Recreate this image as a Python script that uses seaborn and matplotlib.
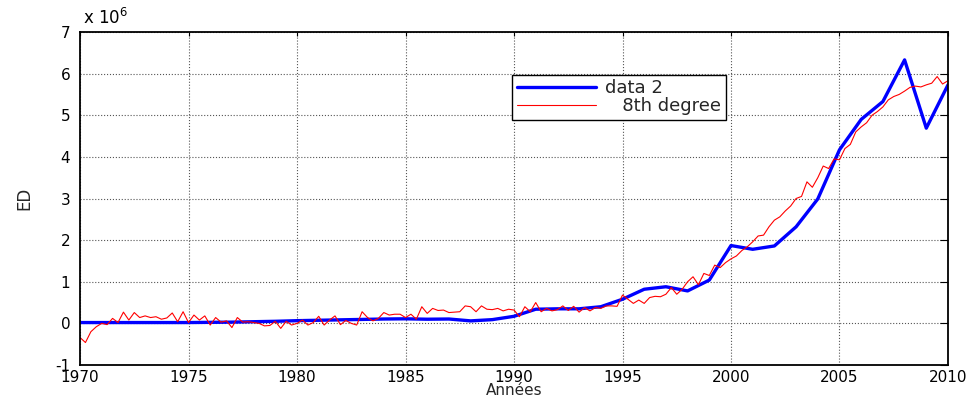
import numpy as np
import pandas as pd
import matplotlib
matplotlib.use("Agg")
import matplotlib.pyplot as plt
from matplotlib.ticker import FuncFormatter
import seaborn as sns

# Annual series ("data 2"), in millions
years = list(range(1970, 2011))
data2_m = [0.02, 0.02, 0.02, 0.02, 0.02, 0.02, 0.025, 0.03, 0.04, 0.05,
           0.065, 0.075, 0.085, 0.095, 0.105, 0.11, 0.10, 0.105, 0.06, 0.09,
           0.17, 0.34, 0.35, 0.35, 0.40, 0.58, 0.82, 0.88, 0.78, 1.04,
           1.87, 1.78, 1.86, 2.32, 2.99, 4.17, 4.90, 5.33, 6.33, 4.69,
           5.73]

# Quarterly series ("8th degree"), in millions, 1970Q1 .. 2010Q1
fit_m = [
    -0.34, -0.46, -0.20, -0.08,
    0.00, -0.03, 0.12, 0.02,
    0.27, 0.08, 0.26, 0.14,
    0.18, 0.14, 0.16, 0.10,
    0.13, 0.25, 0.04, 0.28,
    0.02, 0.20, 0.08, 0.18,
    -0.04, 0.14, 0.03, 0.06,
    -0.10, 0.14, 0.03, 0.04,
    0.02, 0.00, -0.06, -0.05,
    0.05, -0.12, 0.05, -0.04,
    0.00, 0.08, -0.04, 0.02,
    0.17, -0.04, 0.08, 0.18,
    -0.03, 0.07, 0.00, -0.04,
    0.28, 0.14, 0.06, 0.12,
    0.26, 0.20, 0.22, 0.22,
    0.14, 0.22, 0.10, 0.40,
    0.24, 0.36, 0.31, 0.32,
    0.26, 0.27, 0.28, 0.42,
    0.40, 0.28, 0.42, 0.34,
    0.33, 0.36, 0.30, 0.34,
    0.32, 0.16, 0.40, 0.28,
    0.50, 0.28, 0.36, 0.30,
    0.33, 0.42, 0.31, 0.41,
    0.27, 0.38, 0.30, 0.38,
    0.36, 0.42, 0.42, 0.41,
    0.68, 0.58, 0.48, 0.56,
    0.48, 0.62, 0.65, 0.64,
    0.70, 0.86, 0.70, 0.82,
    1.00, 1.12, 0.93, 1.20,
    1.15, 1.40, 1.34, 1.46,
    1.55, 1.62, 1.75, 1.84,
    1.96, 2.10, 2.12, 2.32,
    2.48, 2.56, 2.70, 2.82,
    3.00, 3.05, 3.40, 3.27,
    3.50, 3.78, 3.72, 3.95,
    3.93, 4.20, 4.30, 4.60,
    4.72, 4.82, 5.00, 5.09,
    5.20, 5.37, 5.45, 5.50,
    5.58, 5.67, 5.70, 5.68,
    5.73, 5.77, 5.93, 5.75,
    5.83,
]
fit_t = 1970 + np.arange(len(fit_m)) / 4.0

x_ticks = list(range(1970, 2011, 5))
y_ticks_m = list(range(-1, 8))
scale = 1e6

annual = pd.DataFrame({"year": years, "ED": np.array(data2_m) * scale})
quarterly = pd.DataFrame({"t": fit_t, "ED": np.array(fit_m) * scale})

sns.set_theme(style="white")
plt.rcParams["font.family"] = ["DejaVu Sans"]
plt.rcParams["axes.unicode_minus"] = False

fig = plt.figure(figsize=(9.76, 3.99), dpi=100)
ax = fig.add_axes([0.082, 0.0852, 0.8893, 0.8346])

sns.lineplot(data=annual, x="year", y="ED", ax=ax, color="#0000ff",
             linewidth=2.4, label="data 2", estimator=None, sort=False)
sns.lineplot(data=quarterly, x="t", y="ED", ax=ax, color="#ff0000",
             linewidth=0.8, label="   8th degree", estimator=None, sort=False)

ax.set_xlim(1970, 2010)
ax.set_ylim(-1 * scale, 7 * scale)
ax.set_xticks(x_ticks)
ax.set_yticks([v * scale for v in y_ticks_m])
ax.yaxis.set_major_formatter(FuncFormatter(lambda v, p: f"{v / scale:g}"))

# multiplier shown above the y axis
ax.text(0.003, 1.012, "x 10$^{6}$", transform=ax.transAxes, ha="left",
        va="bottom", fontsize=12, color="black")

ax.grid(True, linestyle=":", color="#555555", linewidth=0.8)
ax.set_axisbelow(True)

for s in ax.spines.values():
    s.set_visible(True)
    s.set_color("black")
    s.set_linewidth(1.3)

ax.tick_params(axis="both", which="major", direction="in", top=True,
               right=True, labelsize=11, colors="black", width=0.8)
ax.tick_params(axis="x", length=3, pad=3.5)
ax.tick_params(axis="y", length=6, pad=7)

ax.set_xlabel("Années", fontsize=11, labelpad=-1)
ax.set_ylabel("ED", fontsize=12, labelpad=16)

leg = ax.legend(loc="upper left", bbox_to_anchor=(0.4977, 0.871),
                borderaxespad=0, fontsize=13, frameon=True, fancybox=False,
                framealpha=1, edgecolor="black", handlelength=4.4,
                handletextpad=0.5, borderpad=0.25, labelspacing=0.0)
leg.get_frame().set_linewidth(1.0)

fig.savefig("out.png", dpi=100)
